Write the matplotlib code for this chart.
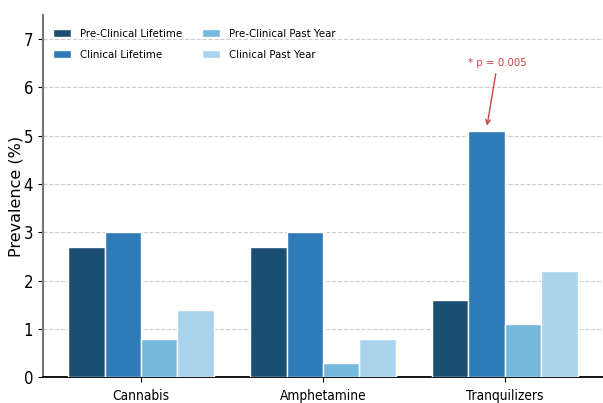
import matplotlib
matplotlib.use("Agg")
import matplotlib.pyplot as plt
from matplotlib import font_manager as fm
import numpy as np

# data
categories = ["Cannabis", "Amphetamine", "Tranquilizers"]
series = ["Pre-Clinical Lifetime", "Clinical Lifetime",
          "Pre-Clinical Past Year", "Clinical Past Year"]
pre_lifetime = [2.7, 2.7, 1.6]
clin_lifetime = [3.0, 3.0, 5.1]
pre_past_year = [0.8, 0.3, 1.1]
clin_past_year = [1.4, 0.8, 2.2]
colors = ["#1b4f72", "#2e7bb8", "#74b8dc", "#aad4ee"]

# condensed DejaVu for most text
cond_path = None
for f in fm.fontManager.ttflist:
    if f.name == "DejaVu Sans" and f.stretch == "condensed" and f.weight in (400, "normal"):
        if f.style == "normal":
            cond_path = f.fname
            break

def cond(size):
    if cond_path:
        return fm.FontProperties(fname=cond_path, size=size)
    return fm.FontProperties(family="DejaVu Sans", size=size)

fig = plt.figure(figsize=(6.03, 4.03), dpi=100)
ax = fig.add_axes([0.071, 0.064, 0.929, 0.899])

x = np.arange(len(categories))
w = 0.2
values = [pre_lifetime, clin_lifetime, pre_past_year, clin_past_year]
for i, (name, vals, c) in enumerate(zip(series, values, colors)):
    ax.bar(x + (i - 1.5) * w, vals, w, color=c, edgecolor="white",
           linewidth=1, label=name, zorder=3)

ax.set_ylim(0, 7.5)
ax.set_yticks(range(0, 8))
ax.set_xticks(x)
ax.set_xticklabels(categories)
for lab in ax.get_xticklabels():
    lab.set_fontproperties(cond(9.8))
for lab in ax.get_yticklabels():
    lab.set_fontproperties(cond(12))
ax.tick_params(axis="x", pad=5)
ax.set_ylabel("Prevalence (%)", fontsize=11.5, family="DejaVu Sans", labelpad=0)
ax.grid(axis="y", ls="--", color="#cccccc", lw=0.8, zorder=0)
ax.spines["top"].set_visible(False)
ax.spines["right"].set_visible(False)
ax.spines["left"].set_color("#777777")
ax.spines["left"].set_linewidth(1.5)
ax.spines["bottom"].set_linewidth(1.3)

# significance marker on tranquilizers clinical lifetime
ax.annotate("* p = 0.005", xy=(x[2] - 0.5 * w, clin_lifetime[2] + 0.05),
            xytext=(x[2] - 0.04, 6.5), ha="center", va="center",
            color="#c8454a", fontproperties=cond(8.2),
            arrowprops=dict(arrowstyle="->", color="#c8454a", lw=1))

ax.legend(ncol=2, loc="upper left", frameon=False, prop=cond(8.2),
          bbox_to_anchor=(0.0, 0.99), handlelength=1.6, columnspacing=1.7,
          labelspacing=0.95)

plt.savefig("out.png", dpi=100)
plt.close()
